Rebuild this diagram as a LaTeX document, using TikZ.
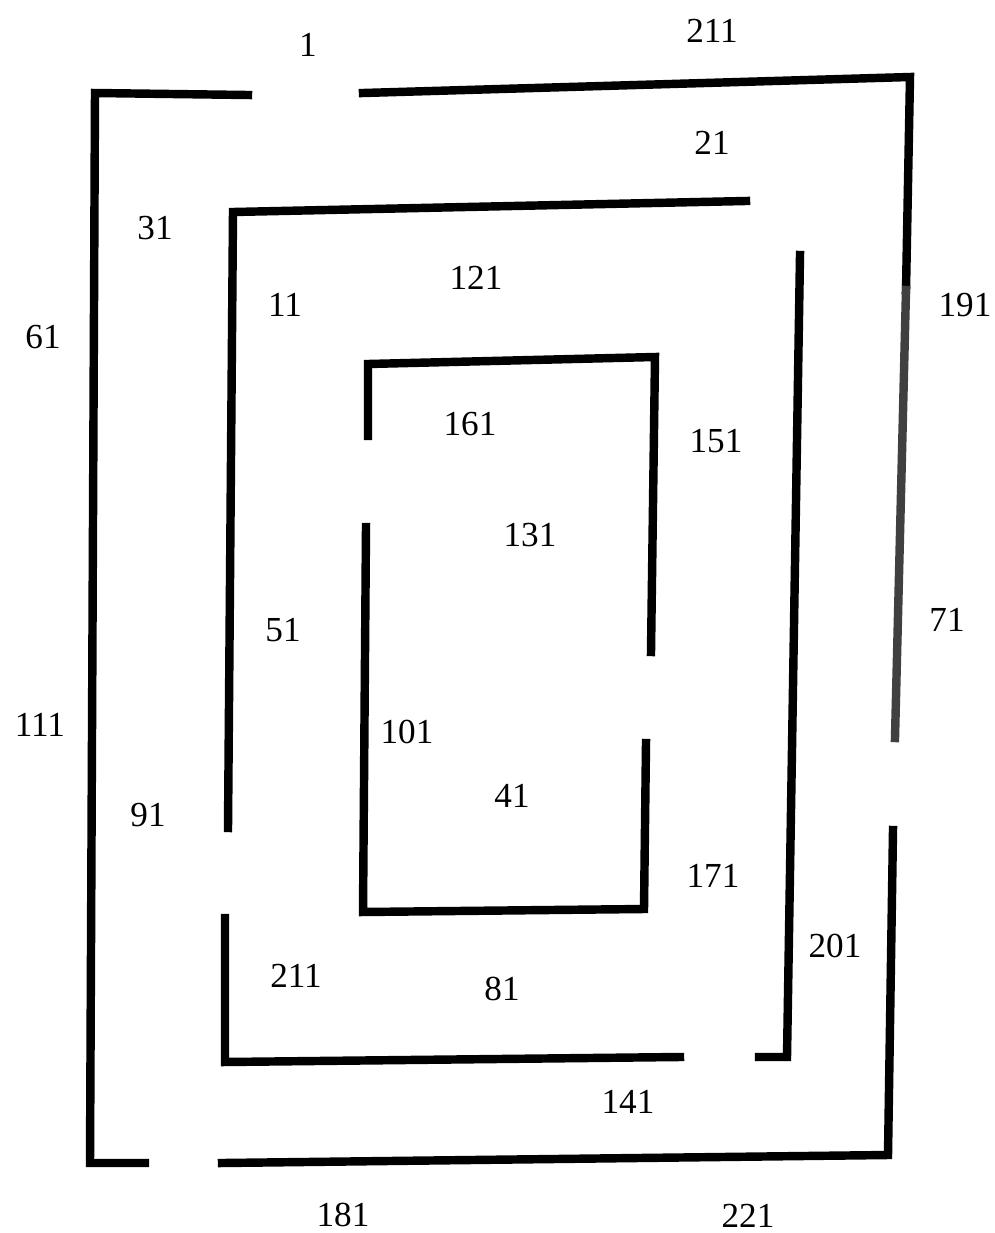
\documentclass[tikz,border=0pt]{standalone}
\usepackage{fontspec}
\setmainfont{Liberation Serif}
\begin{document}
\begin{tikzpicture}[
	x=0.01cm, y=-0.01cm,
	wall/.style={ line width=2.4pt, line cap=rect, line join=miter, black },
	wallg/.style={ line width=2.4pt, line cap=rect, black!75!white },
	num/.style={ font=\fontsize{10}{12}\selectfont, inner sep=0pt }
]
\useasboundingbox (0,0) rectangle (995,1233);

% outer ring
\draw[wall] (248,95) to (95,93) to (90,1163) to (145,1163);
\draw[wall] (363,93) to (910,77) to (906,290);
\draw[wallg] (906,290) to (895,738);
\draw[wall] (893,830) to (888,1155) to (222,1163);

% middle ring
\draw[wall] (746,201) to (233,212) to (228,828);
\draw[wall] (225,918) to (225,1062) to (680,1057);
\draw[wall] (800,255) to (787,1057) to (759,1057);

% inner ring
\draw[wall] (368,436) to (368,364) to (655,357) to (651,652);
\draw[wall] (646,743) to (644,909) to (363,912) to (366,527);

% numbers
\node[num] at (308,45) (n1) {1};
\node[num] at (712,31) (n211a) {211};
\node[num] at (712,143) (n21) {21};
\node[num] at (155,228) (n31) {31};
\node[num] at (43,337) (n61) {61};
\node[num] at (285,305) (n11) {11};
\node[num] at (476,278) (n121) {121};
\node[num] at (965,305) (n191) {191};
\node[num] at (470,424) (n161) {161};
\node[num] at (716,441) (n151) {151};
\node[num] at (530,535) (n131) {131};
\node[num] at (947,620) (n71) {71};
\node[num] at (283,630) (n51) {51};
\node[num] at (40,725) (n111) {111};
\node[num] at (407,732) (n101) {101};
\node[num] at (512,796) (n41) {41};
\node[num] at (148,815) (n91) {91};
\node[num] at (713,876) (n171) {171};
\node[num] at (835,946) (n201) {201};
\node[num] at (296,976) (n211b) {211};
\node[num] at (502,989) (n81) {81};
\node[num] at (628,1102) (n141) {141};
\node[num] at (343,1215) (n181) {181};
\node[num] at (748,1216) (n221) {221};

\end{tikzpicture}
\end{document}
